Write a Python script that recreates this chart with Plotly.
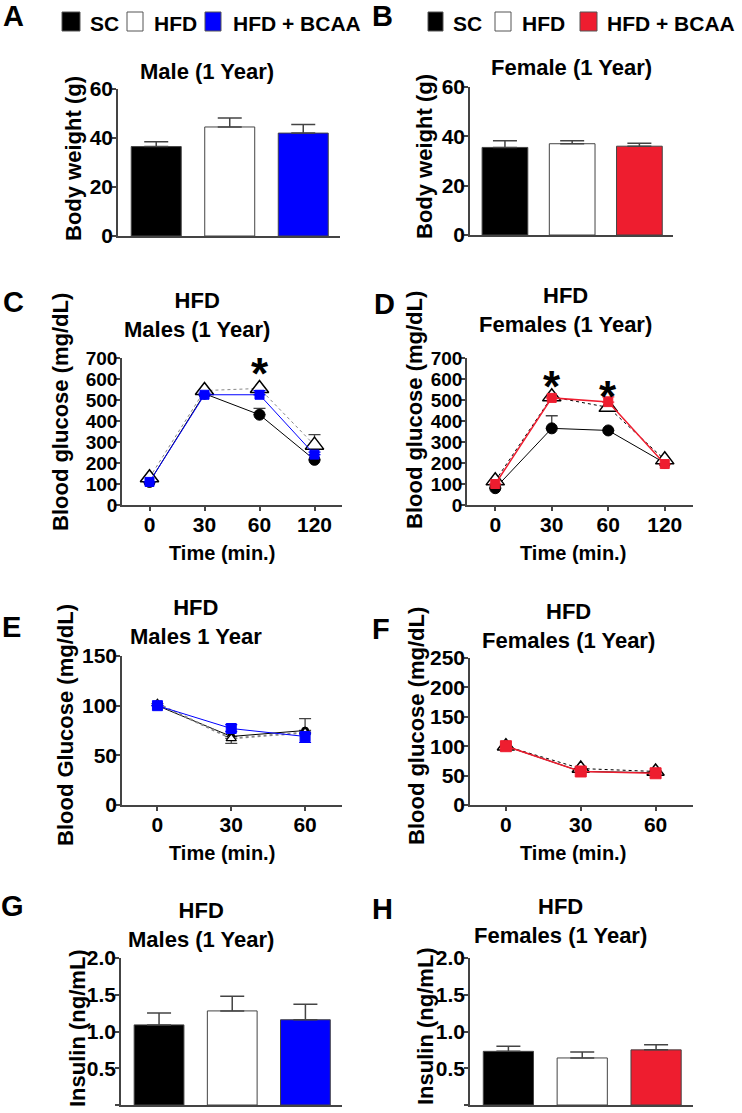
import plotly.graph_objects as go

# figure size in px, used to place panels in paper coordinates
W, H = 742, 1113

groups = ["SC", "HFD", "HFD + BCAA"]

# A / B: body weight (g)
male_bw = [36.5, 44.5, 42.0]
male_bw_err = [2.0, 3.7, 3.5]
female_bw = [35.5, 37.0, 36.0]
female_bw_err = [2.7, 1.2, 1.2]

# C / D: glucose tolerance (mg/dL)
gtt_times = ["0", "30", "60", "120"]
c_sc = [110, 530, 430, 215]
c_sc_err = [0, 0, 30, 0]
c_hfd = [130, 545, 555, 285]
c_hfd_err = [0, 0, 0, 50]
c_bcaa = [110, 525, 525, 240]
c_bcaa_err = [0, 8, 20, 12]

d_sc = [80, 365, 355, 200]
d_sc_err = [0, 60, 0, 0]
d_hfd = [115, 515, 465, 215]
d_hfd_err = [0, 0, 0, 0]
d_bcaa = [100, 510, 490, 195]
d_bcaa_err = [0, 0, 25, 0]

# E / F: insulin tolerance (mg/dL)
itt_times = ["0", "30", "60"]
e_sc = [100, 69, 75]
e_sc_up = [0, 0, 12]
e_hfd = [102, 67, 73]
e_hfd_down = [0, 5, 0]
e_bcaa = [100, 77, 69]
e_bcaa_up = [0, 4, 3]
e_bcaa_down = [0, 3, 6]

f_sc = [100, 57, 55]
f_hfd = [100, 62, 57]
f_bcaa = [100, 57, 54]

# G / H: insulin (ng/mL)
male_ins = [1.09, 1.28, 1.16]
male_ins_err = [0.16, 0.20, 0.21]
female_ins = [0.73, 0.64, 0.75]
female_ins_err = [0.07, 0.08, 0.07]

# significance markers (time point, height of star)
c_stars = [("60", 625)]
d_stars = [("30", 565), ("60", 518)]

BLUE = "#0000FF"
RED = "#EE1D2F"
AXIS = "#444444"
FONT = "Liberation Sans, Arial, sans-serif"


def px(x):
    return x / W


def py(y):
    return 1 - y / H


def bold(size):
    return dict(family=FONT, size=size, color="black", weight="bold")


fig = go.Figure()


def bar_panel(n, vals, errs, third):
    fig.add_trace(go.Bar(
        x=groups, y=vals, width=0.68,
        marker=dict(color=["black", "white", third], line=dict(color=AXIS, width=1)),
        error_y=dict(type="data", symmetric=False, array=errs, arrayminus=[0, 0, 0],
                     color=AXIS, thickness=1.5, width=12),
        xaxis=f"x{n}", yaxis=f"y{n}", showlegend=False, cliponaxis=False,
    ))


def line_trace(n, xs, ys, color, dash, symbol, size, up=None, down=None,
               mfill=None, lwidth=1, width=1):
    err = None
    if up is not None or down is not None:
        err = dict(type="data", symmetric=False,
                   array=up if up is not None else [0] * len(ys),
                   arrayminus=down if down is not None else [0] * len(ys),
                   color=AXIS if color in ("black", "#888888") else color,
                   thickness=1.3, width=6)
    fig.add_trace(go.Scatter(
        x=xs, y=ys, mode="lines+markers",
        line=dict(color=color, dash=dash, width=width),
        marker=dict(symbol=symbol, size=size,
                    color=mfill if mfill else color,
                    line=dict(color="black" if mfill else color, width=lwidth)),
        error_y=err, xaxis=f"x{n}", yaxis=f"y{n}", showlegend=False, cliponaxis=False,
    ))


# A, B
bar_panel(1, male_bw, male_bw_err, BLUE)
bar_panel(2, female_bw, female_bw_err, RED)

# C
line_trace(3, gtt_times, c_sc, "black", "solid", "circle", 11, up=c_sc_err)
line_trace(3, gtt_times, c_hfd, "#888888", "dot", "triangle-up", 16, up=c_hfd_err,
           mfill="white", lwidth=1.5)
line_trace(3, gtt_times, c_bcaa, BLUE, "solid", "square", 9, up=c_bcaa_err)

# D
line_trace(4, gtt_times, d_sc, "black", "solid", "circle", 11, up=d_sc_err)
line_trace(4, gtt_times, d_hfd, "black", "dot", "triangle-up", 16, up=d_hfd_err,
           mfill="white", lwidth=1.5)
line_trace(4, gtt_times, d_bcaa, RED, "solid", "square", 9, up=d_bcaa_err, width=1.5)

# E
line_trace(5, itt_times, e_sc, "black", "solid", "circle", 7, up=e_sc_up)
line_trace(5, itt_times, e_hfd, "#888888", "dot", "triangle-up", 9, down=e_hfd_down,
           mfill="white", lwidth=1.2, width=2)
line_trace(5, itt_times, e_bcaa, BLUE, "solid", "square", 10, up=e_bcaa_up, down=e_bcaa_down)

# F
line_trace(6, itt_times, f_sc, "black", "solid", "circle", 9)
line_trace(6, itt_times, f_hfd, "black", "dot", "triangle-up", 15, mfill="white", lwidth=1.5)
line_trace(6, itt_times, f_bcaa, RED, "solid", "square", 11, width=1.5)

# G, H
bar_panel(7, male_ins, male_ins_err, BLUE)
bar_panel(8, female_ins, female_ins_err, RED)

# panel boxes in px: (left, right, top, bottom)
boxes = {
    1: (118, 340, 89, 236),
    2: (470, 673, 87, 235),
    3: (122, 342, 358, 505),
    4: (467, 693, 358, 505),
    5: (122, 342, 656, 805),
    6: (470, 693, 658, 805),
    7: (121, 342, 958, 1105),
    8: (470, 693, 958, 1105),
}
yranges = {1: [0, 60], 2: [0, 60], 3: [0, 700], 4: [0, 700],
           5: [0, 150], 6: [0, 250], 7: [0, 2.0], 8: [0, 2.0]}
dticks = {1: 20, 2: 20, 3: 100, 4: 100, 5: 50, 6: 50, 7: 0.5, 8: 0.5}

layout = {}
for n, (l, r, t, b) in boxes.items():
    is_bar = n in (1, 2, 7, 8)
    key = "" if n == 1 else str(n)
    if is_bar:
        xr = [-0.52, 2.5]
    elif n in (3, 4):
        xr = [-0.5, 3.5]
    else:
        xr = [-0.48, 2.5]
    layout[f"xaxis{key}"] = dict(
        domain=[px(l), px(r)], anchor=f"y{n}", range=xr, type="category",
        showline=True, linecolor=AXIS, linewidth=1.5, showgrid=False, zeroline=False,
        ticks="" if is_bar else "outside", ticklen=4, tickwidth=1.5, tickcolor=AXIS,
        showticklabels=not is_bar, tickfont=bold(21), ticklabelstandoff=-4,
        automargin=False,
    )
    layout[f"yaxis{key}"] = dict(
        domain=[py(b), py(t)], anchor=f"x{n}", range=yranges[n], dtick=dticks[n],
        tickformat=".1f" if n in (7, 8) else "d",
        showline=True, linecolor=AXIS, linewidth=1.5, showgrid=False, zeroline=False,
        ticks="outside", ticklen=4, tickwidth=1.5, tickcolor=AXIS,
        tickfont=bold(19 if n in (3, 4) else 21), ticklabelstandoff=-5,
        automargin=False,
    )

ann = []


def text(x, y, s, size, angle=0, xanchor="center"):
    ann.append(dict(x=px(x), y=py(y), xref="paper", yref="paper", text=s,
                    showarrow=False, font=bold(size), textangle=angle,
                    xanchor=xanchor, yanchor="middle"))


# panel letters
for letter, x, y in [("A", 13, 16), ("B", 383, 16), ("C", 13, 302), ("D", 384, 304),
                     ("E", 11, 627), ("F", 381, 629), ("G", 12, 906), ("H", 383, 909)]:
    text(x, y, letter, 29)

# panel titles
text(207, 71, "Male (1 Year)", 22)
text(571, 68, "Female (1 Year)", 22)
text(197, 315, "HFD<br>Males (1 Year)", 22)
text(565, 310, "HFD<br>Females (1 Year)", 22)
text(196, 622, "HFD<br>Males 1 Year", 22)
text(568, 626, "HFD<br>Females (1 Year)", 22)
text(201, 925, "HFD<br>Males (1 Year)", 22)
text(560, 921, "HFD<br>Females (1 Year)", 22)

# axis titles
text(74, 159, "Body weight (g)", 22, -90)
text(424, 157, "Body weight (g)", 22, -90)
text(60, 412, "Blood glucose (mg/dL)", 22, -90)
text(414, 410, "Blood glucose (mg/dL)", 22, -90)
text(65, 725, "Blood Glucose (mg/dL)", 22, -90)
text(416, 726, "Blood glucose (mg/dL)", 22, -90)
text(77, 1028, "Insulin (ng/mL)", 22, -90)
text(425, 1026, "Insulin (ng/mL)", 22, -90)
text(222, 553, "Time (min.)", 20)
text(573, 553, "Time (min.)", 20)
text(222, 853, "Time (min.)", 20)
text(573, 853, "Time (min.)", 20)

# significance stars in data coordinates (category axes use the category index)
for n, stars in ((3, c_stars), (4, d_stars)):
    for t, yv in stars:
        ann.append(dict(x=gtt_times.index(t), y=yv, xref=f"x{n}", yref=f"y{n}", text="*",
                        showarrow=False, font=bold(44), xanchor="center", yanchor="middle"))

# legends: swatch boxes + labels
shapes = []
for items in [
    [(62, 80, "black", 88, "SC"), (127, 143, "white", 152, "HFD"), (205, 221, BLUE, 231, "HFD + BCAA")],
    [(428, 443, "black", 451, "SC"), (495, 511, "white", 520, "HFD"), (580, 597, RED, 605, "HFD + BCAA")],
]:
    for x0, x1, col, tx, label in items:
        shapes.append(dict(type="rect", xref="paper", yref="paper",
                           x0=px(x0), x1=px(x1), y0=py(31), y1=py(12),
                           fillcolor=col, line=dict(color="#555555", width=1)))
        text(tx, 23, label, 21, xanchor="left")

fig.update_layout(
    width=W, height=H, margin=dict(l=0, r=0, t=0, b=0, autoexpand=False),
    paper_bgcolor="white", plot_bgcolor="white",
    annotations=ann, shapes=shapes, showlegend=False,
    font=dict(family=FONT, color="black"),
    **layout,
)

# the page body has a default 8px margin; drop it so the figure sits at the corner
fig.write_html("out.html", config={"displayModeBar": False},
               post_script="document.body.style.margin = '0';")
